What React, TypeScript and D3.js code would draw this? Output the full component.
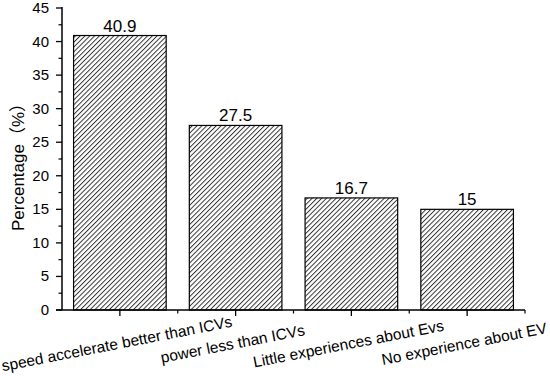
import React from "react";
import * as d3 from "d3";

const categories = [
  "speed accelerate better than ICVs",
  "power less than ICVs",
  "Little experiences about Evs",
  "No experience about EV",
];
const values = [40.9, 27.5, 16.7, 15];
const valueLabels = ["40.9", "27.5", "16.7", "15"];
const yTicks = [0, 5, 10, 15, 20, 25, 30, 35, 40, 45];
const yMinorTicks = [2.5, 7.5, 12.5, 17.5, 22.5, 27.5, 32.5, 37.5, 42.5];

const W = 550;
const H = 376;
const left = 62;
const right = 525;
const top = 8;
const bottom = 310;
const FONT = "'Liberation Sans', Arial, 'Noto Sans CJK SC', sans-serif";

export default function App() {
  const x = d3
    .scaleBand<string>()
    .domain(categories)
    .range([left, right])
    .paddingInner(0.2)
    .paddingOuter(0.1);
  const y = d3.scaleLinear().domain([0, 45]).range([bottom, top]);
  const step = x.step();
  const centers = categories.map((c) => (x(c) as number) + x.bandwidth() / 2);
  const boundaries = centers.map((c) => c + step / 2);

  return (
    <svg
      width={W}
      height={H}
      style={{ position: "absolute", left: 0, top: 0, background: "#fff" }}
      fontFamily={FONT}
    >
      <defs>
        <pattern
          id="hatch"
          patternUnits="userSpaceOnUse"
          width={3.4}
          height={10}
          patternTransform="rotate(45)"
        >
          <rect width={3.4} height={10} fill="#fff" />
          <line x1={0.5} y1={0} x2={0.5} y2={10} stroke="#222" strokeWidth={0.9} />
        </pattern>
      </defs>
      <rect x={0} y={0} width={W} height={H} fill="#fff" />

      {categories.map((c, i) => (
        <g key={c}>
          <rect
            x={x(c)}
            y={y(values[i])}
            width={x.bandwidth()}
            height={y(0) - y(values[i])}
            fill="url(#hatch)"
            stroke="#000"
            strokeWidth={1.2}
          />
          <text
            x={centers[i]}
            y={y(values[i]) - 4}
            textAnchor="middle"
            fontSize={17}
            fill="#000"
          >
            {valueLabels[i]}
          </text>
        </g>
      ))}

      {/* y axis */}
      <line x1={left} y1={top - 1} x2={left} y2={bottom} stroke="#000" strokeWidth={1.5} />
      {yTicks.map((t) => (
        <g key={"y" + t}>
          <line x1={left - 6} x2={left} y1={y(t)} y2={y(t)} stroke="#000" strokeWidth={1.3} />
          <text x={left - 13} y={y(t) + 5} textAnchor="end" fontSize={15} fill="#000">
            {t}
          </text>
        </g>
      ))}
      {yMinorTicks.map((t) => (
        <line key={"ym" + t} x1={left - 3.5} x2={left} y1={y(t)} y2={y(t)} stroke="#000" strokeWidth={1.2} />
      ))}

      {/* x axis */}
      <line x1={left - 6} y1={bottom} x2={right} y2={bottom} stroke="#000" strokeWidth={1.5} />
      {centers.map((cx, i) => (
        <line key={"xt" + i} x1={cx} x2={cx} y1={bottom} y2={bottom + 6} stroke="#000" strokeWidth={1.3} />
      ))}
      {boundaries.map((bx, i) => (
        <line key={"xm" + i} x1={bx} x2={bx} y1={bottom} y2={bottom + 3.5} stroke="#000" strokeWidth={1.2} />
      ))}
      {categories.map((c, i) => (
        <text
          key={"xl" + i}
          transform={`translate(${centers[i] - 2},${349}) rotate(-11)`}
          textAnchor="middle"
          fontSize={15.5}
          fill="#000"
        >
          {c}
        </text>
      ))}

      <text
        transform={`translate(24,${163}) rotate(-90)`}
        textAnchor="middle"
        fontSize={17}
        fill="#000"
      >
        Percentage（%）
      </text>
    </svg>
  );
}
